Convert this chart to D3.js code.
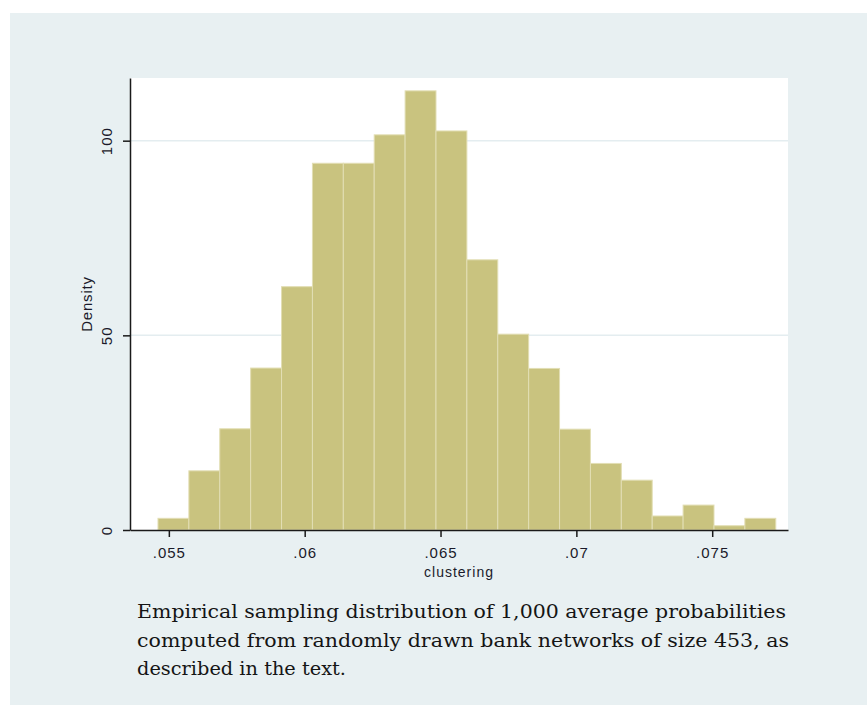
<!DOCTYPE html>
<html>
<head>
<meta charset="utf-8">
<script src="https://cdn.jsdelivr.net/npm/d3@7"></script>
<style>
  body { margin: 0; background: #ffffff; }
  .tick text { font-family: "Liberation Sans", Arial, sans-serif; fill: #1a1a2a; }
  .axis-title { font-family: "Liberation Sans", Arial, sans-serif; fill: #1a1a2a; }
  .caption { font-family: "DejaVu Serif", serif; fill: #151515; }
</style>
</head>
<body>
<svg id="hist-svg" width="867" height="705"></svg>
<script>
// histogram of clustering: 20 equal bins, density on y
let bin_start = 0.0546;
let bin_width = 0.001137;
let density = [3.0, 15.2, 26.0, 41.6, 62.5, 94.2, 94.2, 101.5, 112.8, 102.5,
  69.4, 50.3, 41.5, 25.9, 17.1, 12.8, 3.6, 6.4, 1.1, 3.0];

let x_ticks = [0.055, 0.06, 0.065, 0.07, 0.075];
let x_tick_labels = [".055", ".06", ".065", ".07", ".075"];
let y_ticks = [0, 50, 100];
let y_grid = [50, 100];

let caption_lines = [
  "Empirical sampling distribution of 1,000 average probabilities",
  "computed from randomly drawn bank networks of size 453, as",
  "described in the text."
];

let hist_svg = d3.select("#hist-svg");
let hist_width = +hist_svg.attr("width");
let hist_height = +hist_svg.attr("height");

let plot_left = 130, plot_right = 788, plot_top = 78, plot_bottom = 530;

let hist_x = d3.scaleLinear().domain([0.05357, 0.07779]).range([plot_left, plot_right]);
let hist_y = d3.scaleLinear().domain([0, 116.1]).range([plot_bottom, plot_top]);

let bins = density.map(function (d, i) {
  return { x0: bin_start + i * bin_width, x1: bin_start + (i + 1) * bin_width, value: d };
});

// outer panel
hist_svg.append("rect")
  .attr("x", 10).attr("y", 13)
  .attr("width", hist_width - 10).attr("height", hist_height - 13)
  .attr("fill", "#e8f0f2");

// plot area
hist_svg.append("rect")
  .attr("x", plot_left).attr("y", plot_top)
  .attr("width", plot_right - plot_left).attr("height", plot_bottom - plot_top)
  .attr("fill", "#ffffff");

hist_svg.append("g")
  .selectAll("line")
  .data(y_grid)
  .enter()
  .append("line")
  .attr("x1", plot_left).attr("x2", plot_right)
  .attr("y1", function (d) { return hist_y(d); })
  .attr("y2", function (d) { return hist_y(d); })
  .attr("stroke", "#e4edf0")
  .attr("stroke-width", 1.5);

hist_svg.append("g")
  .selectAll("rect")
  .data(bins)
  .enter()
  .append("rect")
  .attr("x", function (d) { return hist_x(d.x0); })
  .attr("y", function (d) { return hist_y(d.value); })
  .attr("width", function (d) { return hist_x(d.x1) - hist_x(d.x0); })
  .attr("height", function (d) { return hist_y(0) - hist_y(d.value); })
  .attr("fill", "#c9c37f")
  .attr("stroke", "#e2deb4")
  .attr("stroke-width", 1);

// x axis
let x_axis_g = hist_svg.append("g")
  .attr("transform", "translate(0," + plot_bottom + ")")
  .call(d3.axisBottom(hist_x)
    .tickValues(x_ticks)
    .tickFormat(function (d, i) { return x_tick_labels[i]; })
    .tickSize(7)
    .tickSizeOuter(0));
x_axis_g.selectAll("line, path").attr("stroke", "#1a1a1a").attr("stroke-width", 1.5);
x_axis_g.selectAll("text")
  .attr("y", 28).attr("dy", null)
  .attr("font-size", 15)
  .attr("letter-spacing", 1);
x_axis_g.attr("font-family", null).attr("font-size", null);

// y axis
let y_axis_g = hist_svg.append("g")
  .attr("transform", "translate(" + plot_left + ",0)")
  .call(d3.axisLeft(hist_y)
    .tickValues(y_ticks)
    .tickFormat(d3.format("d"))
    .tickSize(7)
    .tickSizeOuter(0));
y_axis_g.selectAll("line, path").attr("stroke", "#1a1a1a").attr("stroke-width", 1.5);
y_axis_g.selectAll("text")
  .attr("transform", "rotate(-90)")
  .attr("x", 0).attr("y", -18).attr("dy", null)
  .attr("text-anchor", "middle")
  .attr("font-size", 15)
  .attr("letter-spacing", 1);
y_axis_g.attr("font-family", null).attr("font-size", null);

hist_svg.append("text")
  .attr("class", "axis-title")
  .attr("x", (plot_left + plot_right) / 2)
  .attr("y", 577)
  .attr("text-anchor", "middle")
  .attr("font-size", 14)
  .attr("letter-spacing", 1)
  .text("clustering");

hist_svg.append("g")
  .attr("transform", "translate(92," + (plot_top + plot_bottom) / 2 + ")")
  .append("text")
  .attr("class", "axis-title")
  .attr("transform", "rotate(-90)")
  .attr("text-anchor", "middle")
  .attr("font-size", 15)
  .attr("letter-spacing", 0.8)
  .text("Density");

// caption below the chart
let caption_widths = [649, 652, 209];
hist_svg.append("g")
  .selectAll("text")
  .data(caption_lines)
  .enter()
  .append("text")
  .attr("class", "caption")
  .attr("x", 137)
  .attr("y", function (d, i) { return 618 + i * 28.5; })
  .attr("font-size", 19)
  .attr("textLength", function (d, i) { return caption_widths[i]; })
  .attr("lengthAdjust", "spacingAndGlyphs")
  .text(function (d) { return d; });
</script>
</body>
</html>
